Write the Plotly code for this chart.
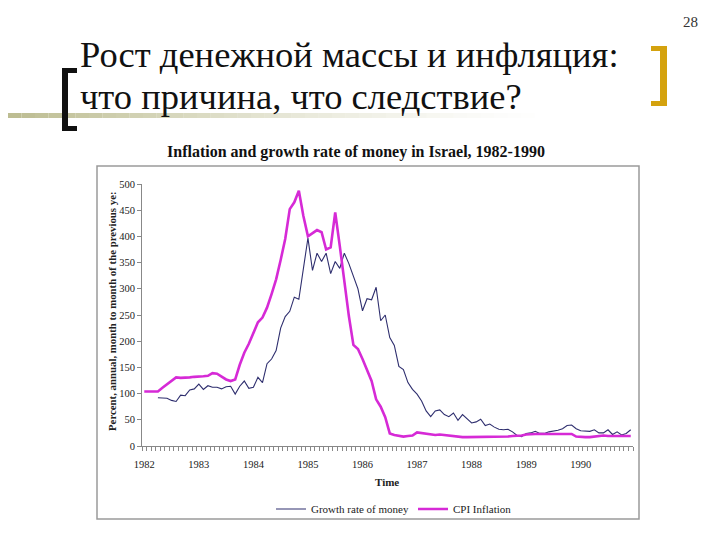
import plotly.graph_objects as go

# ---------------- data (monthly, Jan 1982 .. Dec 1990) ----------------
months = [1982 + i / 12 for i in range(108)]

money_growth = [
    None, None, None, 92, 92, 91, 87, 85, 97, 96,
    107, 109, 118, 108, 115, 112, 112, 109, 113, 114,
    99, 114, 124, 110, 112, 131, 121, 157, 166, 182,
    225, 247, 257, 284, 280, 335, 397, 335, 368, 352,
    368, 329, 352, 339, 368, 348, 323, 300, 258, 281,
    279, 303, 239, 250, 207, 192, 152, 146, 121, 108,
    99, 86, 67, 56, 67, 69, 60, 56, 63, 49,
    60, 51, 44, 46, 51, 39, 42, 36, 32, 31,
    32, 27, 20, 18, 24, 25, 28, 24, 24, 27,
    28, 30, 33, 39, 40, 33, 29, 28, 28, 31,
    25, 25, 31, 22, 27, 21, 24, 31,
]

cpi_inflation = [
    104, 104, 104, 104, 111, 118, 125, 131, 130, 130,
    131, 132, 132, 133, 134, 139, 138, 133, 127, 124,
    127, 155, 178, 195, 215, 236, 245, 264, 290, 318,
    355, 395, 452, 465, 487, 439, 400, 406, 412, 408,
    375, 379, 446, 382, 314, 248, 193, 185, 166, 145,
    124, 89, 75, 55, 24, 21, 19, 18, 19, 20,
    26, 25, 24, 23, 21, 22, 21, 19, 18, 17,
    17, 17, 17, 17, 17, 18, 17, 17, 17, 17,
    18, 19, 19, 20, 22, 23, 23, 23, 23, 23,
    23, 23, 23, 23, 23, 18, 17, 17, 17, 18,
    18, 20, 19, 19, 20, 19, 19, 19,
]

year_ticks = list(range(1982, 1991))
y_ticks = list(range(0, 501, 50))

title_line1 = "Рост денежной массы и инфляция:"
title_line2 = "что причина, что следствие?"
chart_title = "Inflation and growth rate of money in Israel, 1982-1990"
y_title = "Percent, annual, month to month of the previous ye:"
x_title = "Time"
page_no = "28"

# ---------------- figure ----------------
# the page body has an 8px margin, so the figure is 704x524 and offset by 8px
OFF = 8
W, H = 720 - 2 * OFF, 540 - 2 * OFF
SERIF = "Liberation Serif"


def px(x):
    return (x - OFF) / W


def py(y):
    return 1 - (y - OFF) / H


fig = go.Figure()
fig.add_trace(go.Scatter(
    x=months, y=money_growth, mode="lines", name="Growth rate of money",
    line=dict(color="#2E2E6E", width=1.1), connectgaps=False,
))
fig.add_trace(go.Scatter(
    x=months, y=cpi_inflation, mode="lines", name="CPI Inflation",
    line=dict(color="#D62AD6", width=2.6),
))

shapes = []
# chart frame
shapes.append(dict(type="rect", xref="paper", yref="paper",
                   x0=px(97), x1=px(639), y0=py(519), y1=py(166),
                   line=dict(color="#9A9A9A", width=1.5), layer="below"))
# olive fading bar under slide title
n_seg = 40
for i in range(n_seg):
    x0 = OFF + i * 540 / n_seg
    x1 = OFF + (i + 1) * 540 / n_seg
    op = max(0.0, 1 - i / n_seg) ** 1.4
    shapes.append(dict(type="rect", xref="paper", yref="paper",
                       x0=px(x0), x1=px(x1), y0=py(118), y1=py(113),
                       fillcolor="#BDBD92", opacity=op, line=dict(width=0),
                       layer="below"))
# left black bracket
for (x0, x1, y0, y1) in [(62, 68, 68, 131), (62, 77, 68, 73), (62, 77, 126, 131)]:
    shapes.append(dict(type="rect", xref="paper", yref="paper",
                       x0=px(x0), x1=px(x1), y0=py(y1), y1=py(y0),
                       fillcolor="#111111", line=dict(width=0)))
# right gold bracket
for (x0, x1, y0, y1) in [(660, 667, 46, 106), (651, 667, 46, 51), (651, 667, 101, 106)]:
    shapes.append(dict(type="rect", xref="paper", yref="paper",
                       x0=px(x0), x1=px(x1), y0=py(y1), y1=py(y0),
                       fillcolor="#D4A20E", line=dict(width=0)))

annotations = [
    dict(text=title_line1, xref="paper", yref="paper", x=px(78), y=py(55),
         xanchor="left", yanchor="middle", showarrow=False, align="left",
         font=dict(family=SERIF, size=36.5, color="#111111")),
    dict(text=title_line2, xref="paper", yref="paper", x=px(78), y=py(96),
         xanchor="left", yanchor="middle", showarrow=False, align="left",
         font=dict(family=SERIF, size=36.5, color="#111111")),
    dict(text=page_no, xref="paper", yref="paper", x=px(690), y=py(22),
         xanchor="center", yanchor="middle", showarrow=False,
         font=dict(family=SERIF, size=15, color="#333333")),
    dict(text="<b>" + chart_title + "</b>", xref="paper", yref="paper",
         x=px(356), y=py(152), xanchor="center", yanchor="middle",
         showarrow=False, font=dict(family=SERIF, size=16, color="#111111")),
    dict(text="<b>" + y_title + "</b>", xref="paper", yref="paper",
         x=px(112), y=py(311), xanchor="center", yanchor="middle",
         textangle=-90, showarrow=False,
         font=dict(family=SERIF, size=10.8, color="#222222")),
    dict(text="<b>" + x_title + "</b>", xref="paper", yref="paper",
         x=px(387), y=py(482), xanchor="center", yanchor="middle",
         showarrow=False, font=dict(family=SERIF, size=11, color="#222222")),
]

fig.update_layout(
    width=W, height=H,
    margin=dict(l=0, r=0, t=0, b=0, autoexpand=False),
    paper_bgcolor="white", plot_bgcolor="white",
    shapes=shapes, annotations=annotations,
    showlegend=True,
    legend=dict(orientation="h", x=px(271), y=py(509), xanchor="left",
                yanchor="middle", font=dict(family=SERIF, size=11, color="#222222"),
                bgcolor="rgba(0,0,0,0)", itemwidth=30, tracegroupgap=0,
                entrywidth=97, entrywidthmode="pixels"),
    xaxis=dict(
        domain=[px(142), px(633)],
        range=[1982 - 0.5 / 12, 1982 + 107.5 / 12],
        tickmode="array", tickvals=year_ticks, ticktext=[str(y) for y in year_ticks],
        ticks="", showgrid=False, zeroline=False, automargin=False,
        showline=True, linecolor="#888888", linewidth=1,
        tickfont=dict(family=SERIF, size=10.5, color="#222222"),
        ticklabelstandoff=8,
        minor=dict(tickmode="linear", tick0=1982 - 0.5 / 12, dtick=1 / 12,
                   ticks="outside", ticklen=4, tickcolor="#888888", showgrid=False),
    ),
    yaxis=dict(
        domain=[py(446), py(184)],
        range=[0, 500],
        tickmode="array", tickvals=y_ticks,
        ticks="outside", ticklen=4, tickcolor="#888888",
        showgrid=False, zeroline=False, automargin=False,
        showline=True, linecolor="#888888", linewidth=1,
        tickfont=dict(family=SERIF, size=10.5, color="#222222"),
    ),
)

fig.write_html("out.html")
